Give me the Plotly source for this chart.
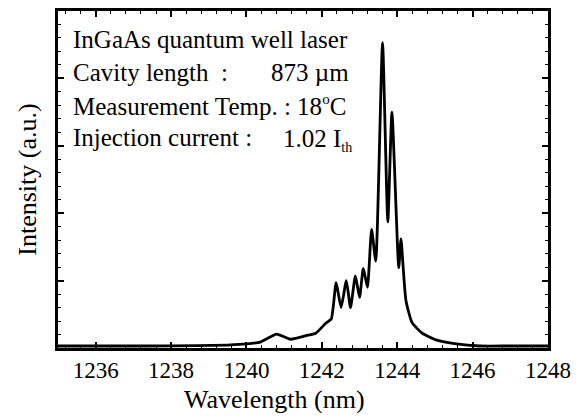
import plotly.graph_objects as go

# Wavelength (nm) and intensity (a.u.)
wavelength = [1235.0, 1236.0, 1237.3, 1238.7, 1239.5, 1240.0, 1240.37, 1240.8, 1241.17, 1241.63,
              1241.84, 1242.11, 1242.25, 1242.38, 1242.51, 1242.65, 1242.76, 1242.89,
              1243.0, 1243.1, 1243.21, 1243.32, 1243.43, 1243.61, 1243.75, 1243.86,
              1244.04, 1244.1, 1244.15, 1244.23, 1244.39, 1244.66, 1245.03, 1245.57,
              1246.19, 1247.0, 1248.0]
intensity = [0.03, 0.03, 0.03, 0.035, 0.044, 0.06, 0.088, 0.206, 0.13, 0.19,
             0.22, 0.37, 0.43, 0.97, 0.60, 1.00, 0.60, 1.07,
             0.75, 1.18, 0.90, 1.76, 1.29, 4.53, 1.87, 3.50,
             1.19, 1.62, 1.26, 0.71, 0.38, 0.22, 0.12, 0.06,
             0.03, 0.03, 0.03]

x_ticks = [1236, 1238, 1240, 1242, 1244, 1246, 1248]

FONT = "Liberation Serif"

fig = go.Figure()
fig.add_trace(go.Scatter(x=wavelength, y=intensity, mode="lines",
                         line=dict(color="black", width=2.8, shape="spline", smoothing=0.5),
                         showlegend=False))

axis_common = dict(showline=True, linecolor="black", linewidth=2.5, mirror="ticks",
                   ticks="inside", tickcolor="black", tickwidth=1.5, showgrid=False,
                   zeroline=False)

fig.update_xaxes(range=[1235, 1248], tickvals=x_ticks, ticklen=6,
                 minor=dict(dtick=0.4, tick0=1236, ticks="inside", ticklen=3,
                            tickcolor="black", tickwidth=1.2),
                 tickfont=dict(family=FONT, size=23, color="black"),
                 **axis_common)
fig.update_yaxes(range=[0, 5], dtick=1, ticklen=6, showticklabels=False,
                 minor=dict(dtick=0.2, ticks="inside", ticklen=3,
                            tickcolor="black", tickwidth=1.2),
                 title=dict(text="Intensity (a.u.)", font=dict(family=FONT, size=26, color="black"),
                            standoff=12),
                 **axis_common)

L, R, T, B = 58, 548, 8, 348
def px(x):
    return (x - L) / (R - L)
def py(y):
    return (B - y) / (B - T)

fig.add_annotation(text="Wavelength (nm)", x=px(274), y=py(400), xref="paper", yref="paper",
                   xanchor="center", yanchor="middle", showarrow=False,
                   font=dict(family=FONT, size=26, color="black"))

texts = [
    ("InGaAs quantum well laser", 71, 37),
    ("Cavity length  :", 71, 70),
    ("873 µm", 269, 70),
    ("Measurement Temp. : 18<sup><span style='font-size:15px'>o</span></sup>C", 71, 103),
    ("Injection current :", 71, 136),
    ("1.02 I<sub><span style='font-size:14px'>th</span></sub>", 281, 138),
]
for t, x, y in texts:
    fig.add_annotation(text=t, x=px(x), y=py(y), xref="paper", yref="paper",
                       xanchor="left", yanchor="middle", showarrow=False,
                       font=dict(family=FONT, size=25, color="black"))

fig.update_layout(width=584, height=416, margin=dict(l=L, r=584 - R, t=T, b=416 - B),
                  plot_bgcolor="white", paper_bgcolor="white")

fig.write_html("out.html")
